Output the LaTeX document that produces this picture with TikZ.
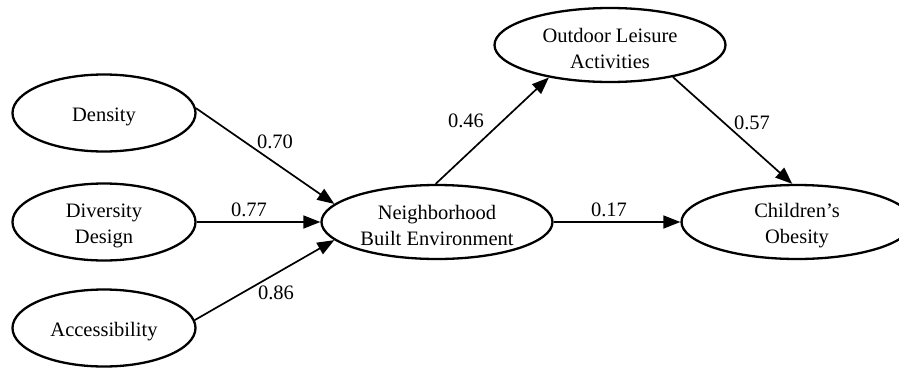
\documentclass[tikz,border=0pt]{standalone}
\usepackage{fontspec}
\setmainfont{Liberation Serif}
\usetikzlibrary{shapes.geometric,arrows.meta}

% invisible strut that lowers the first line inside the ellipses a little
\newcommand{\firstline}{\rule{0pt}{21pt}}

\tikzset{
  latent/.style={draw, ellipse, line width=2.3pt, inner sep=0pt, align=center,
                 font=\fontsize{20.5}{26}\selectfont},
  smallvar/.style={latent, minimum width=183pt, minimum height=77pt},
  bigvar/.style={latent, minimum width=231pt, minimum height=74pt},
  path/.style={line width=1.7pt, -{Triangle[length=17pt,width=13pt]}},
  coef/.style={inner sep=0pt, font=\fontsize{20.5}{24}\selectfont}
}

\begin{document}
\begin{tikzpicture}[x=1pt,y=-1pt]
  \useasboundingbox (0,0) rectangle (899,367);
  \clip (0,0) rectangle (899,367);

  % exogenous dimensions
  \node[smallvar] (dens) at (104,113) {\firstline Density};
  \node[smallvar] (div)  at (104,222) {\firstline Diversity\\Design};
  \node[smallvar] (acc)  at (104,328) {\firstline Accessibility};

  % mediator and outcomes
  \node[bigvar] (nbe)  at (437,222) {\firstline Neighborhood\\Built Environment};
  \node[bigvar] (ola)  at (610,45)  {\firstline Outdoor Leisure\\Activities};
  \node[bigvar] (obes) at (797,222) {\firstline Children’s\\Obesity};

  % structural paths
  \draw[path] (dens.3)  -- (nbe.170);
  \draw[path] (div.east) -- (nbe.west);
  \draw[path] (acc.5)   -- (nbe.190);
  \draw[path] (nbe.92)  -- (ola.208);
  \draw[path] (nbe.east) -- (obes.west);
  \draw[path] (ola.333) -- (obes.97);

  % path coefficients
  \node[coef] (c70) at (275,142) {0.70};
  \node[coef] (c77) at (249,210) {0.77};
  \node[coef] (c86) at (276,293) {0.86};
  \node[coef] (c46) at (466,121) {0.46};
  \node[coef] (c17) at (609,210) {0.17};
  \node[coef] (c57) at (752,123) {0.57};
\end{tikzpicture}
\end{document}
